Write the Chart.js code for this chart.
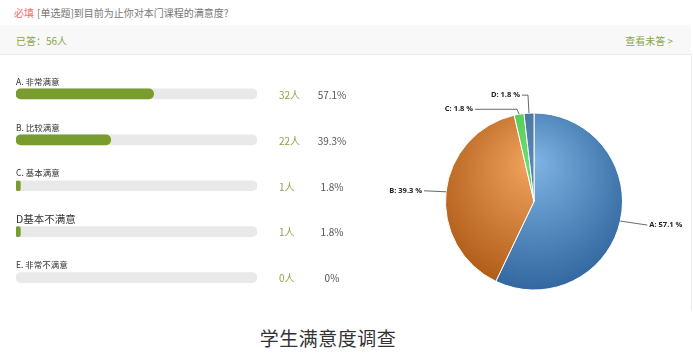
<!DOCTYPE html>
<html>
<head>
<meta charset="utf-8">
<script src="https://cdn.jsdelivr.net/npm/chart.js@4.4.0/dist/chart.umd.min.js"></script>
<style>
  body { margin: 0; background: #fff; font-family: "Noto Sans CJK SC", "Open Sans", sans-serif; }
  #page { position: relative; width: 693px; height: 358px; overflow: hidden; }
  .q { position: absolute; left: 14px; top: 5px; font-size: 10px; color: #777; white-space: nowrap; }
  .q .req { color: #f56c6c; margin-right: 3px; }
  .band { position: absolute; left: 0; top: 25px; width: 691px; height: 29px; background: #f8f8f8; border-bottom: 1px solid #ececec; }
  .answered { position: absolute; left: 16px; top: 8px; font-size: 10px; color: #8aa64a; }
  .unanswered { position: absolute; right: 18px; top: 8px; font-size: 10px; color: #8aa64a; }
  .vline { position: absolute; left: 691px; top: 54px; width: 1px; height: 256px; background: #ececec; }
  #barWrap { position: absolute; left: 0; top: 60px; width: 370px; height: 245px; }
  #pieWrap { position: absolute; left: 370px; top: 80px; width: 323px; height: 230px; }
  .title { position: absolute; left: 0; width: 656px; top: 324px; text-align: center; font-size: 19px; color: #333; letter-spacing: 0.5px; }
</style>
</head>
<body>
<div id="page">
  <div class="q"><span class="req">必填</span>[单选题]到目前为止你对本门课程的满意度?</div>
  <div class="band">
    <span class="answered">已答：56人</span>
    <span class="unanswered">查看未答 &gt;</span>
  </div>
  <div class="vline"></div>
  <div id="barWrap"><canvas id="barChart"></canvas></div>
  <div id="pieWrap"><canvas id="pieChart"></canvas></div>
  <div class="title">学生满意度调查</div>
</div>

<script>
// survey data
const options = ['A. 非常满意', 'B. 比较满意', 'C. 基本满意', 'D基本不满意', 'E. 非常不满意'];
const counts = [32, 22, 1, 1, 0];
const percents = [57.1, 39.3, 1.8, 1.8, 0];
const pieLabels = ['A', 'B', 'C', 'D'];
const pieValues = [57.1, 39.3, 1.8, 1.8];

const total = 100;

// label font size per option (D is typed bigger in the original)
const optionFontSize = [8.5, 8.5, 8.5, 10.5, 8.5];

// progress bars
const barLabels = {
  id: 'barLabels',
  afterDatasetsDraw(chart) {
    const ctx = chart.ctx;
    const meta = chart.getDatasetMeta(0);
    ctx.save();
    meta.data.forEach((bar, i) => {
      const y = bar.y;
      ctx.textBaseline = 'middle';
      ctx.textAlign = 'left';
      ctx.fillStyle = '#333';
      ctx.font = optionFontSize[i] + 'px "Noto Sans CJK SC", sans-serif';
      ctx.fillText(options[i], 16, y - 12.5);

      ctx.font = '10px "Noto Sans CJK SC", "Open Sans", sans-serif';
      ctx.fillStyle = '#8aa64a';
      ctx.fillText(counts[i] + '人', 279, y + 1);
      ctx.textAlign = 'center';
      ctx.fillStyle = '#555';
      ctx.fillText(percents[i] + '%', 332, y + 1);
    });
    ctx.restore();
  }
};

new Chart(document.getElementById('barChart'), {
  type: 'bar',
  data: {
    labels: options,
    datasets: [
      {
        label: 'value',
        data: percents,
        // nothing drawn for an empty option
        backgroundColor: c => (c.raw > 0 ? '#789c2e' : 'rgba(0,0,0,0)'),
        borderRadius: 5,
        borderSkipped: false,
        barThickness: 10,
        grouped: false
      },
      {
        label: 'track',
        data: options.map(() => total),
        backgroundColor: '#e9e9e9',
        borderRadius: 5,
        borderSkipped: false,
        barThickness: 10,
        grouped: false
      }
    ]
  },
  options: {
    indexAxis: 'y',
    responsive: true,
    maintainAspectRatio: false,
    animation: false,
    layout: { padding: { left: 16, right: 113, top: 11, bottom: 4.5 } },
    scales: {
      x: { display: false, min: 0, max: total },
      y: { display: false }
    },
    plugins: { legend: { display: false }, tooltip: { enabled: false } }
  },
  plugins: [barLabels]
});

// pie
const sliceColors = [
  ['#7fb4e4', '#2f649d'],
  ['#f2a660', '#ad5916'],
  ['#6ddc6d', '#4cc04c'],
  ['#5a86b5', '#3f6a99']
];

function sliceFill(c) {
  const chart = c.chart;
  const area = chart.chartArea;
  const pair = sliceColors[c.dataIndex];
  if (!area) return pair[1];
  const cx = (area.left + area.right) / 2;
  const cy = (area.top + area.bottom) / 2;
  const r = Math.min(area.right - area.left, area.bottom - area.top) / 2;
  const g = chart.ctx.createRadialGradient(cx, cy - r * 0.45, 0, cx, cy - r * 0.2, r * 1.25);
  g.addColorStop(0, pair[0]);
  g.addColorStop(1, pair[1]);
  return g;
}

// leader line layout: elbow offset from slice edge, then a horizontal run
const leader = [
  { elbow: [27, 4], run: 0 },
  { elbow: [-22, -1], run: 0 },
  { elbow: [-2, -5], run: -42 },
  { elbow: [-1, -18], run: -6 }
];

const pieLabelsPlugin = {
  id: 'pieLabels',
  afterDatasetsDraw(chart) {
    const ctx = chart.ctx;
    const meta = chart.getDatasetMeta(0);
    ctx.save();
    ctx.strokeStyle = '#444';
    ctx.lineWidth = 0.8;
    ctx.fillStyle = '#222';
    ctx.font = 'bold 7.5px "Open Sans", "DejaVu Sans", sans-serif';
    ctx.textBaseline = 'middle';
    meta.data.forEach((arc, i) => {
      const mid = (arc.startAngle + arc.endAngle) / 2;
      const ex = arc.x + arc.outerRadius * Math.cos(mid);
      const ey = arc.y + arc.outerRadius * Math.sin(mid);
      const bx = ex + leader[i].elbow[0];
      const by = ey + leader[i].elbow[1];
      const tx = bx + leader[i].run;
      ctx.beginPath();
      ctx.moveTo(ex, ey);
      ctx.lineTo(bx, by);
      ctx.lineTo(tx, by);
      ctx.stroke();
      const right = tx > arc.x;
      ctx.textAlign = right ? 'left' : 'right';
      ctx.fillText(pieLabels[i] + ': ' + pieValues[i] + ' %', tx + (right ? 2 : -2), by);
    });
    ctx.restore();
  }
};

new Chart(document.getElementById('pieChart'), {
  type: 'pie',
  data: {
    labels: pieLabels,
    datasets: [{
      data: pieValues,
      backgroundColor: sliceFill,
      borderColor: '#fff',
      borderWidth: 1
    }]
  },
  options: {
    responsive: true,
    maintainAspectRatio: false,
    animation: false,
    layout: { padding: { left: 75, right: 70, top: 32.5, bottom: 19.5 } },
    plugins: { legend: { display: false }, tooltip: { enabled: false } }
  },
  plugins: [pieLabelsPlugin]
});
</script>
</body>
</html>
